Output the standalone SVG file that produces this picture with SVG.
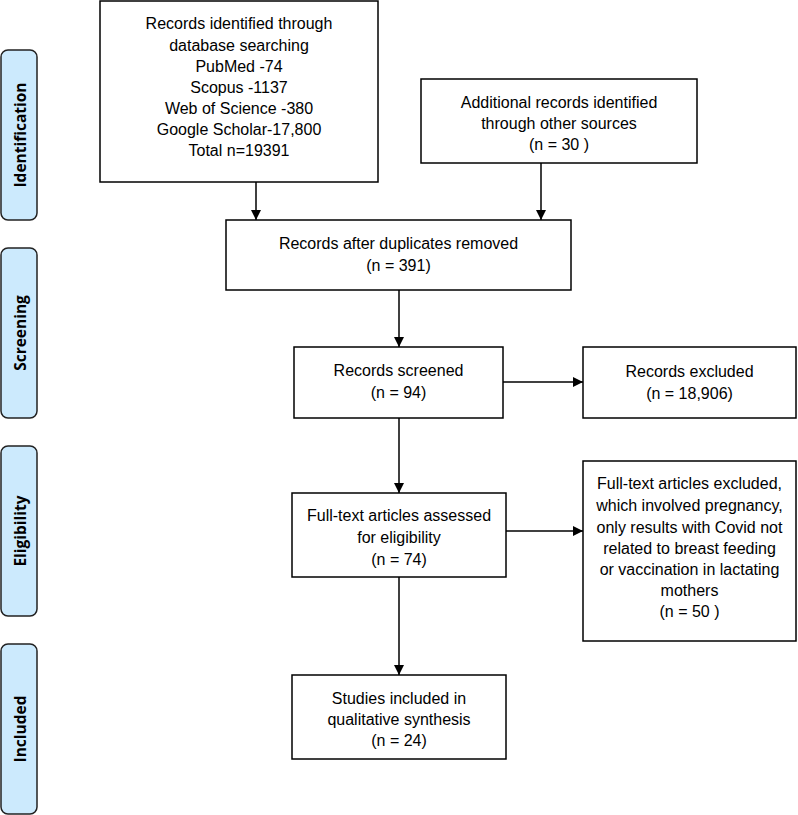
<svg xmlns="http://www.w3.org/2000/svg" width="798" height="815" viewBox="0 0 798 815">
<style>
.box{fill:#fff;stroke:#000;stroke-width:1.5}
.side{fill:#CCEAFD;stroke:#222;stroke-width:1.5}
.t{font-family:"Liberation Sans",Arial,sans-serif;font-size:16px;fill:#000;text-anchor:middle}
.s{font-family:"Open Sans","Liberation Sans",sans-serif;font-size:15.5px;font-weight:bold;fill:#000;text-anchor:middle}
.c{stroke:#000;stroke-width:1.5;fill:none;marker-end:url(#ah)}
</style>
<defs>
<marker id="ah" markerWidth="12" markerHeight="12" refX="10" refY="5" orient="auto" markerUnits="userSpaceOnUse">
<path d="M0,0 L10,5 L0,10 Z" fill="#000"/>
</marker>
</defs>
<rect width="798" height="815" fill="#fff"/>
<g id="side-identification"><rect class="side" x="1" y="50" width="36" height="170" rx="7"/><text class="s" transform="translate(25.5,135) rotate(-90)">Identification</text></g>
<g id="side-screening"><rect class="side" x="1" y="248" width="36" height="170" rx="7"/><text class="s" transform="translate(25.5,333) rotate(-90)">Screening</text></g>
<g id="side-eligibility"><rect class="side" x="1" y="446" width="36" height="170" rx="7"/><text class="s" transform="translate(25.5,531) rotate(-90)">Eligibility</text></g>
<g id="side-included"><rect class="side" x="1" y="644" width="36" height="170" rx="7"/><text class="s" transform="translate(25.5,729) rotate(-90)">Included</text></g>

<g id="n-identified"><rect class="box" x="100" y="1" width="278" height="181"/>
<text class="t" x="239" y="29">Records identified through</text>
<text class="t" x="239" y="51">database searching</text>
<text class="t" x="239" y="72">PubMed -74</text>
<text class="t" x="239" y="93">Scopus -1137</text>
<text class="t" x="239" y="114">Web of Science -380</text>
<text class="t" x="239" y="135">Google Scholar-17,800</text>
<text class="t" x="239" y="156">Total n=19391</text></g>

<g id="n-additional"><rect class="box" x="421" y="79" width="276" height="84"/>
<text class="t" x="559" y="108">Additional records identified</text>
<text class="t" x="559" y="129">through other sources</text>
<text class="t" x="559" y="150">(n = 30 )</text></g>

<g id="n-duplicates"><rect class="box" x="226" y="220" width="345" height="70"/>
<text class="t" x="398.5" y="249">Records after duplicates removed</text>
<text class="t" x="398.5" y="271">(n = 391)</text></g>

<g id="n-screened"><rect class="box" x="294" y="347" width="209" height="71"/>
<text class="t" x="398.5" y="376">Records screened</text>
<text class="t" x="398.5" y="398">(n = 94)</text></g>

<g id="n-excluded"><rect class="box" x="583" y="347" width="213" height="71"/>
<text class="t" x="689.5" y="377">Records excluded</text>
<text class="t" x="689.5" y="399">(n = 18,906)</text></g>

<g id="n-fulltext"><rect class="box" x="292" y="493" width="214" height="84"/>
<text class="t" x="399" y="521">Full-text articles assessed</text>
<text class="t" x="399" y="543">for eligibility</text>
<text class="t" x="399" y="565">(n = 74)</text></g>

<g id="n-ftexcluded"><rect class="box" x="583" y="461" width="213" height="180"/>
<text class="t" x="689.5" y="489">Full-text articles excluded,</text>
<text class="t" x="689.5" y="511">which involved pregnancy,</text>
<text class="t" x="689.5" y="533">only results with Covid not</text>
<text class="t" x="689.5" y="554">related to breast feeding</text>
<text class="t" x="689.5" y="575">or vaccination in lactating</text>
<text class="t" x="689.5" y="596">mothers</text>
<text class="t" x="689.5" y="617">(n = 50 )</text></g>

<g id="n-included"><rect class="box" x="292" y="675" width="214" height="84"/>
<text class="t" x="399" y="704">Studies included in</text>
<text class="t" x="399" y="725">qualitative synthesis</text>
<text class="t" x="399" y="746">(n = 24)</text></g>

<g id="connectors">
<line class="c" x1="256" y1="182" x2="256" y2="220"/>
<line class="c" x1="541" y1="163" x2="541" y2="220"/>
<line class="c" x1="399" y1="290" x2="399" y2="347"/>
<line class="c" x1="503" y1="382" x2="583" y2="382"/>
<line class="c" x1="399" y1="418" x2="399" y2="493"/>
<line class="c" x1="506" y1="531" x2="583" y2="531"/>
<line class="c" x1="399" y1="577" x2="399" y2="675"/>
</g>
</svg>
